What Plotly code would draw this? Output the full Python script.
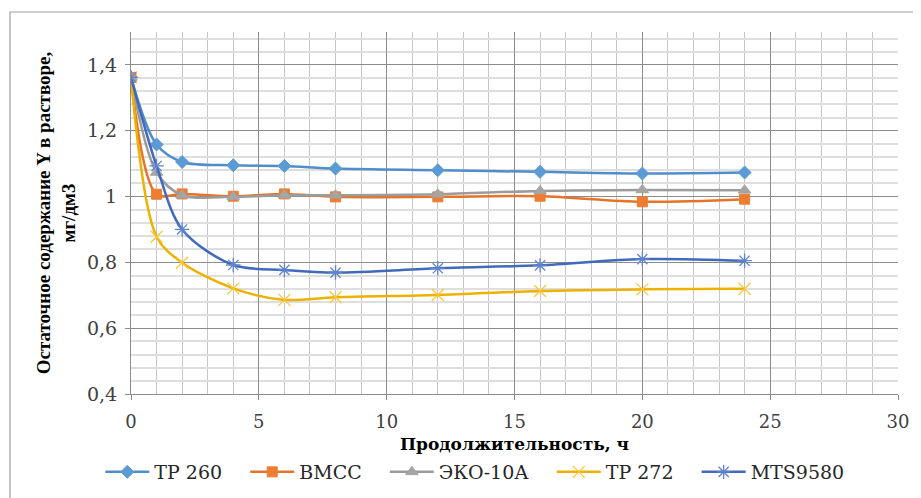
import plotly.graph_objects as go

hours = [0, 1, 2, 4, 6, 8, 12, 16, 20, 24]
tp260 = [1.362, 1.158, 1.105, 1.095, 1.093, 1.085, 1.080, 1.075, 1.070, 1.073]
vmss = [1.362, 1.007, 1.008, 1.001, 1.008, 0.999, 0.999, 1.001, 0.984, 0.992]
eko10a = [1.362, 1.073, 1.004, 0.999, 1.004, 1.004, 1.007, 1.017, 1.020, 1.019]
tp272 = [1.362, 0.878, 0.799, 0.721, 0.686, 0.694, 0.701, 0.713, 0.718, 0.720]
mts9580 = [1.362, 1.093, 0.900, 0.792, 0.777, 0.769, 0.782, 0.791, 0.810, 0.805]

series_names = ["TP 260", "ВМСС", "ЭКО-10А", "TP 272", "MTS9580"]
series_values = [tp260, vmss, eko10a, tp272, mts9580]
line_colors = ["#4F8DCB", "#E57328", "#9C9C9C", "#EDB100", "#4169BC"]
marker_colors = ["#5B9BD5", "#ED7D31", "#A5A5A5", "#FFC633", "#5F84CF"]
symbols = ["diamond", "square", "triangle-up", "x-thin-open", "asterisk-open"]
msizes = [10, 10, 11, 12, 12]
mlw = [1, 1, 1, 1.3, 1.3]

serif = "DejaVu Serif"
times = "Liberation Serif, Times New Roman, serif"
pad = "\u00a0\u00a0\u00a0"

fig = go.Figure()
for name, vals, lc, mc, sym, ms, lw in zip(series_names, series_values, line_colors,
                                           marker_colors, symbols, msizes, mlw):
    fig.add_trace(go.Scatter(
        x=hours, y=vals, name=name + pad, mode="lines+markers",
        line=dict(color=lc, width=2.5, shape="spline", smoothing=0.9),
        marker=dict(symbol=sym, size=ms, color=mc, line=dict(color=mc, width=lw)),
    ))

fig.update_layout(
    width=913, height=490,
    margin=dict(l=123, r=23, t=24, b=104, autoexpand=False),
    paper_bgcolor="white", plot_bgcolor="white",
    separators=", ",
    font=dict(family=serif, size=18, color="#262626"),
    showlegend=True,
    legend=dict(orientation="h", x=-0.04, xanchor="left",
                y=-0.2155, yanchor="middle",
                font=dict(family=serif, size=19, color="#262626"),
                itemwidth=44, tracegroupgap=0),
    xaxis=dict(
        range=[0, 30], dtick=5, tick0=0,
        showgrid=True, gridcolor="#8c8c8c", gridwidth=1,
        minor=dict(dtick=1, showgrid=True, gridcolor="#c6c6c6", gridwidth=1),
        showline=True, linecolor="#8c8c8c", linewidth=1,
        ticks="outside", ticklen=5, tickcolor="#8c8c8c",
        ticklabelstandoff=6,
        zeroline=False,
        tickfont=dict(family=serif, size=18, color="#404040"),
        title=dict(text="<b>Продолжительность, ч</b>", standoff=7,
                   font=dict(family=serif, size=17, color="#000000")),
    ),
    yaxis=dict(
        range=[0.4, 1.5], dtick=0.2, tick0=0.4,
        showgrid=True, gridcolor="#8c8c8c", gridwidth=1,
        minor=dict(dtick=0.04, tick0=0.4, showgrid=True, gridcolor="#dedede", gridwidth=2),
        showline=True, linecolor="#8c8c8c", linewidth=1,
        ticks="outside", ticklen=5, tickcolor="#8c8c8c",
        ticklabelstandoff=4,
        zeroline=False,
        tickfont=dict(family=serif, size=19, color="#404040"),
        title=dict(text="<b>Остаточное содержание Y в растворе,<br>мг/дм3</b>", standoff=6,
                   font=dict(family=times, size=19, color="#000000")),
    ),
)

fig.add_shape(type="rect", xref="paper", yref="paper",
              x0=-0.1578, x1=1.05, y0=-0.32, y1=1.0552,
              line=dict(color="#a0a0a0", width=1.2), fillcolor="rgba(0,0,0,0)", layer="below")

fig.write_html("out.html")
